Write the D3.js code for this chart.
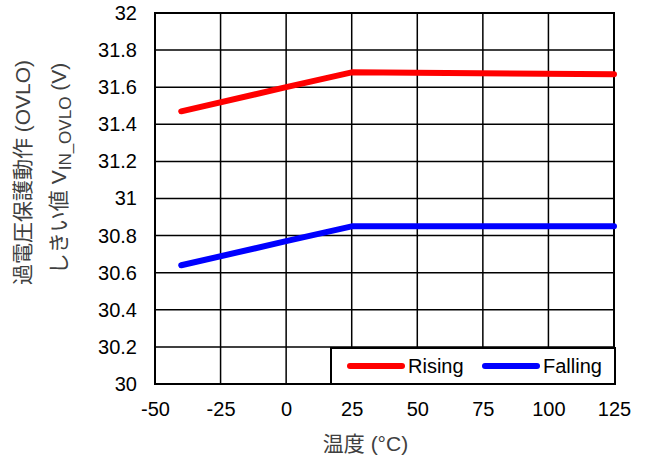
<!DOCTYPE html>
<html><head><meta charset="utf-8">
<script src="https://cdn.jsdelivr.net/npm/d3@7"></script>
<style>body{margin:0;background:#fff}svg{display:block}</style>
</head><body>
<script>
const temps = [-40, 0, 25, 125];
const rising = [31.47, 31.60, 31.68, 31.67];
const falling = [30.64, 30.77, 30.85, 30.85];
const xTicks = [-50, -25, 0, 25, 50, 75, 100, 125];
const yTicks = [30, 30.2, 30.4, 30.6, 30.8, 31, 31.2, 31.4, 31.6, 31.8, 32];
const seriesNames = ["Rising", "Falling"];
const colors = ["#ff0000", "#0000ff"];

const W = 645, H = 459;
const m = {left: 155, right: 31, top: 13, bottom: 75};
const svg = d3.select("body").append("svg").attr("width", W).attr("height", H);
const x = d3.scaleLinear().domain([-50, 125]).range([m.left, W - m.right]);
const y = d3.scaleLinear().domain([30, 32]).range([H - m.bottom, m.top]);
const font = "Liberation Sans, Arial, sans-serif";
const tfont = "Liberation Sans, Arial, Noto Sans CJK JP, sans-serif";

// grid
svg.append("g").selectAll("line").data(xTicks).join("line")
  .attr("x1", d => x(d)).attr("x2", d => x(d)).attr("y1", y(30)).attr("y2", y(32))
  .attr("stroke", "#000").attr("stroke-width", 1.5);
svg.append("g").selectAll("line").data(yTicks).join("line")
  .attr("x1", x(-50)).attr("x2", x(125)).attr("y1", d => y(d)).attr("y2", d => y(d))
  .attr("stroke", "#000").attr("stroke-width", 1.5);
svg.append("rect").attr("x", x(-50)).attr("y", y(32)).attr("width", x(125) - x(-50))
  .attr("height", y(30) - y(32)).attr("fill", "none").attr("stroke", "#000").attr("stroke-width", 2);

// axes labels
const yAxis = d3.axisLeft(y).tickValues(yTicks).tickSize(0).tickPadding(18).tickFormat(d => String(+d.toFixed(1)));
const gy = svg.append("g").attr("transform", `translate(${x(-50)},0)`).call(yAxis);
gy.select(".domain").remove();
gy.selectAll("text").attr("font-family", font).attr("font-size", 20).attr("fill", "#000");
const xAxis = d3.axisBottom(x).tickValues(xTicks).tickSize(0).tickPadding(18).tickFormat(d => String(d));
const gx = svg.append("g").attr("transform", `translate(0,${y(30)})`).call(xAxis);
gx.select(".domain").remove();
gx.selectAll("text").attr("font-family", font).attr("font-size", 20).attr("fill", "#000");

// lines
const line = d3.line().x((d, i) => x(temps[i])).y(d => y(d));
[rising, falling].forEach((s, i) => {
  svg.append("path").datum(s).attr("d", line).attr("fill", "none")
    .attr("stroke", colors[i]).attr("stroke-width", 6).attr("stroke-linecap", "round").attr("stroke-linejoin", "round");
});

// legend
const lg = svg.append("g");
lg.append("rect").attr("x", 331).attr("y", 348).attr("width", 284).attr("height", 36)
  .attr("fill", "#fff").attr("stroke", "#000").attr("stroke-width", 2);
const lx = [350, 485];
seriesNames.forEach((n, i) => {
  lg.append("line").attr("x1", lx[i]).attr("x2", lx[i] + 52).attr("y1", 366).attr("y2", 366)
    .attr("stroke", colors[i]).attr("stroke-width", 6).attr("stroke-linecap", "round");
  lg.append("text").attr("x", lx[i] + 58).attr("y", 372.5).text(n)
    .attr("font-family", font).attr("font-size", 20).attr("fill", "#000");
});

// titles
svg.append("text").attr("x", 365.5).attr("y", 451).attr("text-anchor", "middle")
  .attr("font-family", tfont).attr("font-size", 21).attr("fill", "#404040")
  .text("温度 (°C)");
svg.append("text").attr("transform", "translate(30,172.5) rotate(-90)").attr("text-anchor", "middle")
  .attr("font-family", tfont).attr("font-size", 21).attr("fill", "#404040")
  .text("過電圧保護動作 (OVLO)");
const t2 = svg.append("text").attr("transform", "translate(66,168.5) rotate(-90)").attr("text-anchor", "middle")
  .attr("font-family", tfont).attr("font-size", 21).attr("fill", "#404040");
t2.append("tspan").text("しきい値 V");
t2.append("tspan").attr("dy", 5).attr("font-size", 17).text("IN_OVLO");
t2.append("tspan").attr("dy", -5).text(" (V)");
</script>
</body></html>
